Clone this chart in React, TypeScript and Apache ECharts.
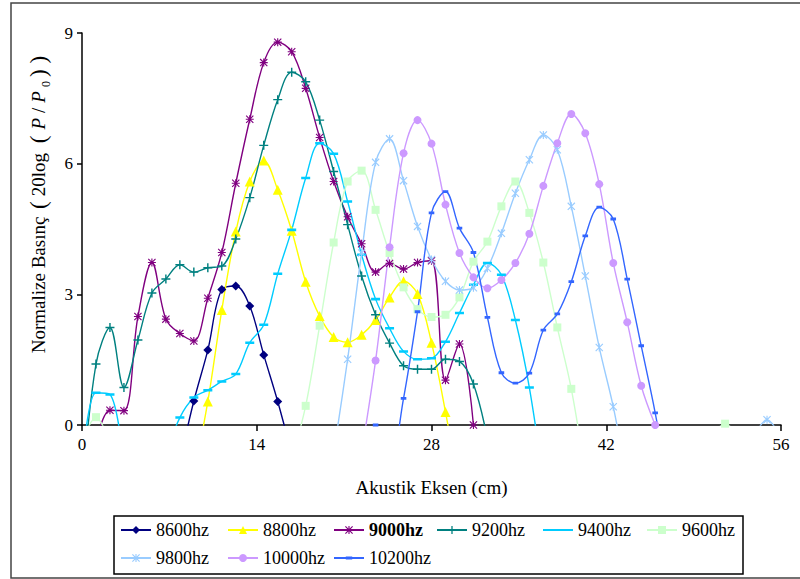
import React, { useEffect, useRef } from "react";
import * as echarts from "echarts";

// measurement grid step (cm) along the acoustic axis
const STEP = 1.12;
const X_TICKS = [0, 14, 28, 42, 56];
const Y_TICKS = [0, 3, 6, 9];

const NAMES = ["8600hz", "8800hz", "9000hz", "9200hz", "9400hz", "9600hz", "9800hz", "10000hz", "10200hz"];
const COLORS = ["#000080", "#FFFF00", "#800080", "#008080", "#00CCFF", "#CCFFCC", "#99CCFF", "#CC99FF", "#3366FF"];

// first grid index of each series, and its values (null = not shown)
const start8600 = 7;
const y8600 = [-0.83, 0.55, 1.72, 3.11, 3.19, 2.73, 1.61, 0.54, -0.66];

const start8800 = 8;
const y8800 = [-1.15, 0.54, 2.64, 4.44, 5.59, 6.07, 5.4, 4.46, 3.29, 2.5, 2.02, 1.9, 2.07, 2.41, 2.93, 3.3, 3.01, 1.89, 0.3, -1.5];

const start9000 = 1;
const y9000 = [-0.4, 0.34, 0.33, 2.49, 3.73, 2.43, 2.1, 1.93, 2.91, 3.96, 5.55, 7.02, 8.32, 8.79, 8.57, 7.73, 6.6, 5.59, 4.78, 4.16, 3.51, 3.71, 3.58, 3.73, 3.77, 1.03, 1.86, 0.0];

const start9200 = 0;
const y9200 = [-1.6, 1.4, 2.24, 0.86, 1.95, 3.03, 3.35, 3.68, 3.51, 3.61, 3.65, 4.27, 5.22, 6.42, 7.47, 8.1, 7.88, 7.0, 5.82, 4.6, 3.42, 2.53, 1.88, 1.36, 1.28, 1.28, 1.51, 1.46, 0.94, -0.31];

const start9400 = 0;
const y9400 = [-0.98, 0.74, 0.7, -0.93, null, null, -0.68, 0.17, 0.63, 0.8, 1.0, 1.17, 1.89, 2.3, 3.47, 4.48, 5.67, 6.47, 6.23, 5.13, 3.91, 2.89, 2.22, 1.69, 1.51, 1.53, 1.91, 2.57, 3.22, 3.72, 3.45, 2.41, 0.86, -1.29];

const start9600 = 0;
const y9600 = [-0.4, 0.18, -0.4, null, null, null, null, null, null, null, null, null, null, null, null, -0.78, 0.44, 2.28, 4.19, 5.59, 5.84, 4.94, 3.95, 3.16, 2.66, 2.48, 2.53, 2.93, 3.75, 4.21, 5.02, 5.59, 4.87, 3.73, 2.24, 0.83, -1.1, null, null, null, null, null, null, null, null, -0.3, 0.03, -0.3];

const start9800 = 18;
const y9800 = [-0.65, 1.51, 3.95, 6.03, 6.57, 5.61, 4.56, 3.8, 3.3, 3.1, 3.15, 3.6, 4.4, 5.32, 6.09, 6.66, 6.32, 5.02, 3.42, 1.78, 0.42, -1.26, null, null, null, null, null, null, null, null, -0.3, 0.12, -0.3];

const start10000 = 20;
const y10000 = [-0.63, 1.48, 4.08, 6.24, 7.0, 6.46, 5.06, 3.95, 3.39, 3.14, 3.33, 3.72, 4.39, 5.49, 6.47, 7.14, 6.7, 5.53, 3.72, 2.36, 0.9, 0.0];

const start10200 = 21;
const y10200 = [0.0, -0.9, 0.61, 2.6, 4.87, 5.36, 4.52, 3.96, 2.47, 1.2, 0.96, 1.19, 2.18, 2.55, 3.29, 4.34, 5.0, 4.73, 3.35, 1.82, 0.28, -1.5];

const STARTS = [start8600, start8800, start9000, start9200, start9400, start9600, start9800, start10000, start10200];
const VALUES = [y8600, y8800, y9000, y9200, y9400, y9600, y9800, y10000, y10200];

const ASTER = "path://M4.3 0L5.7 0L5.7 10L4.3 10Z M0 4.3L10 4.3L10 5.7L0 5.7Z M0 1L1 0L10 9L9 10Z M9 0L10 1L1 10L0 9Z";
const STAR = "path://M4.3 0L5.7 0L5.7 10L4.3 10Z M0 1L1 0L10 9L9 10Z M9 0L10 1L1 10L0 9Z";
const PLUS = "path://M4.2 0L5.8 0L5.8 10L4.2 10Z M0 4.2L10 4.2L10 5.8L0 5.8Z";
const DASH = "path://M0 0L0.01 0L0.01 0.01Z M10 10L9.99 10L9.99 9.99Z M0 3.6L10 3.6L10 6.4L0 6.4Z";
const DASH_S = "path://M0 0L0.01 0L0.01 0.01Z M10 10L9.99 10L9.99 9.99Z M1 3L9 3L9 7L1 7Z";

const SYMBOLS: any[] = ["diamond", "triangle", ASTER, PLUS, DASH, "rect", STAR, "circle", DASH_S];
const SIZES: any[] = [9, 10, 8, 9, 9, 8, 8, 8, 7];

const FONT = "'Liberation Serif', serif";

const LEGEND_POS = [
  [120, 521], [227, 521], [333, 521], [436, 521], [542, 521], [646, 521],
  [120, 549], [227, 549], [333, 549],
];

export default function App() {
  const ref = useRef<HTMLDivElement>(null);
  useEffect(() => {
    if (!ref.current) return;
    const chart = echarts.init(ref.current, null, { renderer: "svg" });
    const series = NAMES.map((name, i) => ({
      name,
      type: "line",
      smooth: 0.35,
      clip: true,
      data: VALUES[i].map((v, j) => [(STARTS[i] + j) * STEP, v === null ? null : v]),
      symbol: SYMBOLS[i],
      symbolSize: SIZES[i],
      showAllSymbol: true,
      lineStyle: { color: COLORS[i], width: 1.4 },
      itemStyle: { color: COLORS[i], borderWidth: 0 },
      emphasis: { disabled: true },
    }));
    const legends = NAMES.map((name, i) => ({
      show: true,
      left: LEGEND_POS[i][0],
      top: LEGEND_POS[i][1],
      padding: 0,
      itemGap: 0,
      itemWidth: 30,
      itemHeight: 10,
      selectedMode: false,
      data: [name],
      formatter: (n: string) => (n === "9000hz" ? "{b|" + n + "}" : "{r|" + n + "}"),
      textStyle: {
        fontFamily: FONT,
        fontSize: 18,
        color: "#000",
        rich: {
          r: { fontFamily: FONT, fontSize: 18, color: "#000" },
          b: { fontFamily: FONT, fontSize: 18, color: "#000", fontWeight: "bold" },
        },
      },
    }));
    chart.setOption({
      animation: false,
      backgroundColor: "#fff",
      textStyle: { fontFamily: FONT },
      grid: { left: 82, top: 33, width: 699, height: 392, containLabel: false },
      xAxis: {
        type: "value",
        min: X_TICKS[0],
        max: X_TICKS[X_TICKS.length - 1],
        interval: X_TICKS[1] - X_TICKS[0],
        name: "Akustik Eksen (cm)",
        nameLocation: "middle",
        nameGap: 53,
        nameTextStyle: { fontFamily: FONT, fontSize: 19, color: "#000" },
        axisLine: { onZero: false, lineStyle: { color: "#000", width: 1.5 } },
        axisTick: { show: true, length: 6, lineStyle: { color: "#000", width: 1.5 } },
        axisLabel: { fontFamily: FONT, fontSize: 17, color: "#000", margin: 11 },
        splitLine: { show: false },
      },
      yAxis: {
        type: "value",
        min: Y_TICKS[0],
        max: Y_TICKS[Y_TICKS.length - 1],
        interval: Y_TICKS[1] - Y_TICKS[0],
        axisLine: { show: true, lineStyle: { color: "#000", width: 1.5 } },
        axisTick: { show: true, length: 5, lineStyle: { color: "#000", width: 1.5 } },
        axisLabel: { fontFamily: FONT, fontSize: 17, color: "#000", margin: 9 },
        splitLine: { show: false },
      },
      legend: legends,
      graphic: [
        {
          type: "rect",
          shape: { x: 11, y: 3, width: 800, height: 575 },
          style: { fill: "none", stroke: "#444", lineWidth: 1.5 },
          silent: true,
          z: -10,
        },
        {
          type: "rect",
          shape: { x: 114, y: 516, width: 629, height: 58 },
          style: { fill: "none", stroke: "#000", lineWidth: 1.5 },
          silent: true,
        },
        {
          type: "text",
          x: 38,
          y: 203,
          rotation: Math.PI / 2,
          style: {
            text: "Normalize Basınç {g|(}{n|20log} {g|(}{i|P}{n|/}{i|P}{s|0}{g|)}{g|)}",
            font: "19px Liberation Serif",
            fill: "#000",
            align: "center",
            verticalAlign: "middle",
            rich: {
              n: { fontSize: 19, fontFamily: FONT, fill: "#000", padding: [0, 2] },
              g: { fontSize: 23, fontFamily: FONT, fill: "#000", padding: [0, 3] },
              i: { fontStyle: "italic", fontSize: 19, fontFamily: FONT, fill: "#000", padding: [0, 3] },
              s: { fontSize: 12, fontFamily: FONT, verticalAlign: "bottom", lineHeight: 28, fill: "#000", padding: [0, 1] },
            },
          },
          silent: true,
        },
      ],
      series,
    });
    return () => chart.dispose();
  }, []);
  return <div ref={ref} style={{ width: 800, height: 579, position: "absolute", left: 0, top: 0 }} />;
}
